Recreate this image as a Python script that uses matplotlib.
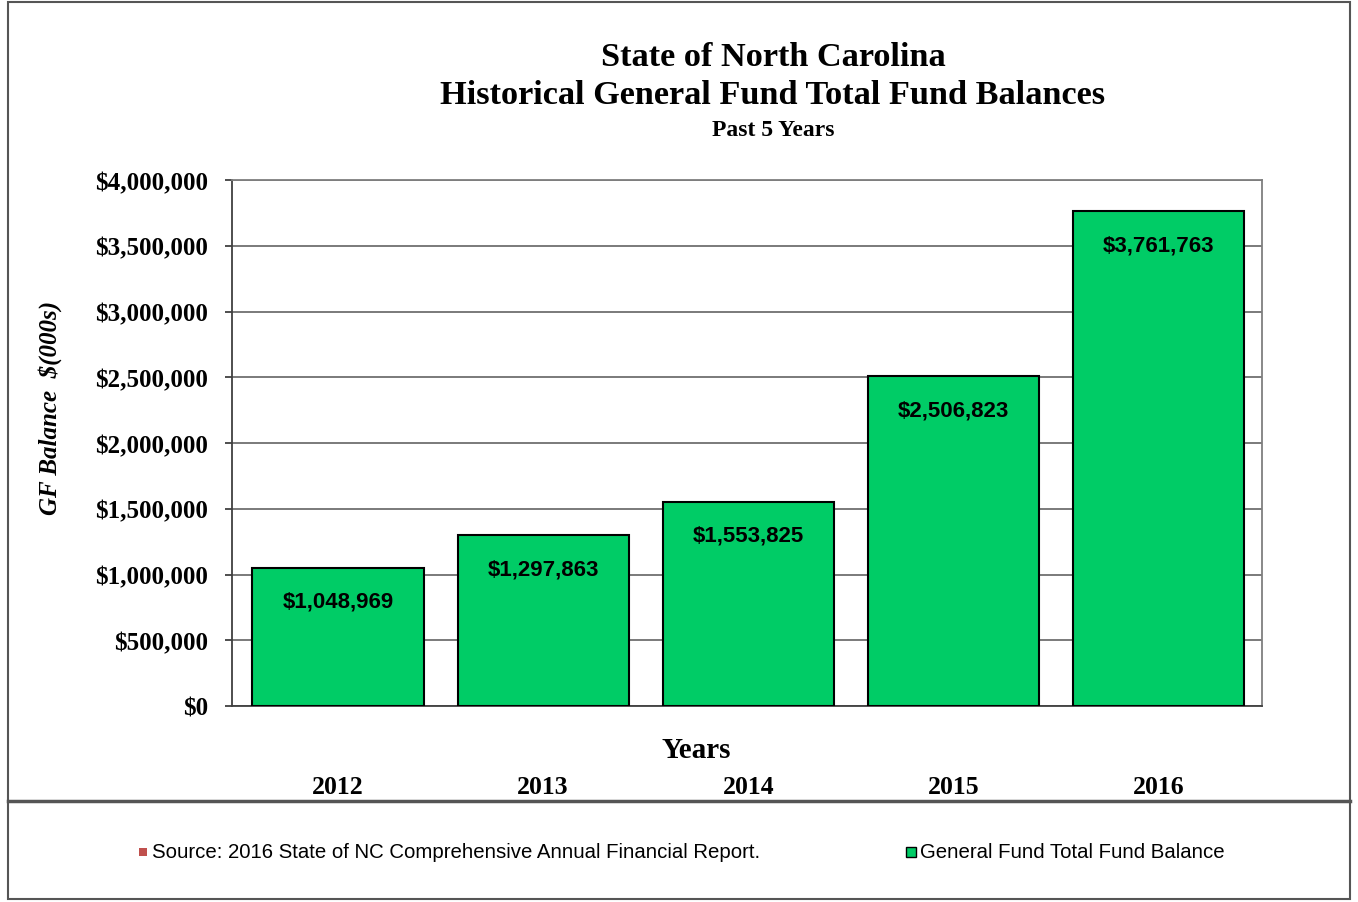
import matplotlib
matplotlib.use("Agg")
import matplotlib.pyplot as plt
from matplotlib.lines import Line2D
from matplotlib.patches import Rectangle
from matplotlib.ticker import FuncFormatter, MultipleLocator
import matplotlib.transforms as mtransforms

years = ["2012", "2013", "2014", "2015", "2016"]
balances = [1048969, 1297863, 1553825, 2506823, 3761763]
bar_labels = ["$1,048,969", "$1,297,863", "$1,553,825", "$2,506,823", "$3,761,763"]

serif = "Liberation Serif"
sans = "Liberation Sans"
green = "#00CC66"

fig = plt.figure(figsize=(13.58, 9.03), dpi=100)
ax = fig.add_axes([232 / 1358, 1 - 707 / 903, 1030 / 1358, 526 / 903])

x = list(range(len(years)))
ax.bar(x, balances, width=0.835, color=green, edgecolor="black", linewidth=1.5, zorder=3)
ax.set_xlim(-0.517, 4.505)
ax.set_ylim(0, 4000000)
ax.yaxis.set_major_locator(MultipleLocator(500000))
ax.yaxis.set_major_formatter(FuncFormatter(lambda v, p: "${:,.0f}".format(v)))
ax.grid(axis="y", color="#6f6f6f", linewidth=1.3, zorder=0)
ax.set_xticks([])
for s in ax.spines.values():
    s.set_color("#7f7f7f")
    s.set_linewidth(1.3)
ax.spines["left"].set_color("#404040")
ax.spines["bottom"].set_color("#404040")
ax.tick_params(axis="y", length=5, width=1.3, color="#404040", pad=12)
for lbl in ax.get_yticklabels():
    lbl.set_fontfamily(serif)
    lbl.set_fontweight("bold")
    lbl.set_fontsize(18)

# value labels inside the bars
for xi, v, t in zip(x, balances, bar_labels):
    ax.annotate(t, (xi, v), xytext=(0, -24), textcoords="offset points",
                ha="center", va="center", fontsize=16, fontweight="bold",
                family=sans, zorder=4)

# year labels sit below the "Years" label
trans = mtransforms.blended_transform_factory(ax.transData, fig.transFigure)
for xi, y in zip(x, years):
    ax.text(xi, 1 - 788 / 903, y, transform=trans, ha="center", va="center",
            fontsize=18.5, fontweight="bold", family=serif)

fig.text(696 / 1358, 1 - 751 / 903, "Years", ha="center", va="center",
         fontsize=21, fontweight="bold", family=serif)
fig.text(50 / 1358, 1 - 408 / 903, "GF Balance  $(000s)", rotation=90,
         ha="center", va="center", fontsize=18, fontweight="bold",
         style="italic", family=serif)

# titles
fig.text(773 / 1358, 1 - 57 / 903, "State of North Carolina", ha="center",
         va="center", fontsize=24.7, fontweight="bold", family=serif)
fig.text(773 / 1358, 1 - 96 / 903, "Historical General Fund Total Fund Balances",
         ha="center", va="center", fontsize=24.7, fontweight="bold", family=serif)
fig.text(773 / 1358, 1 - 131 / 903, "Past 5 Years", ha="center", va="center",
         fontsize=17, fontweight="bold", family=serif)

# outer frame and legend divider
fig.add_artist(Rectangle((8 / 1358, 3 / 903), 1342 / 1358, 897 / 903,
                         transform=fig.transFigure, fill=False,
                         edgecolor="#555555", linewidth=1.5))
fig.add_artist(Line2D([8 / 1358, 1350 / 1358], [1 - 802 / 903] * 2,
                      transform=fig.transFigure, color="#555555", linewidth=2.5))

# legend row
ly = 1 - 853 / 903
fig.add_artist(Rectangle((139 / 1358, ly - 4 / 903), 8 / 1358, 8 / 903,
                         transform=fig.transFigure, facecolor="#C0504D",
                         edgecolor="none"))
fig.text(152 / 1358, ly, "Source: 2016 State of NC Comprehensive Annual Financial Report.",
         ha="left", va="center", fontsize=14.7, family=sans)
fig.add_artist(Rectangle((906 / 1358, ly - 5 / 903), 10 / 1358, 10 / 903,
                         transform=fig.transFigure, facecolor=green,
                         edgecolor="black", linewidth=1))
fig.text(920 / 1358, ly, "General Fund Total Fund Balance",
         ha="left", va="center", fontsize=14.7, family=sans)

fig.savefig("out.png", dpi=100)
